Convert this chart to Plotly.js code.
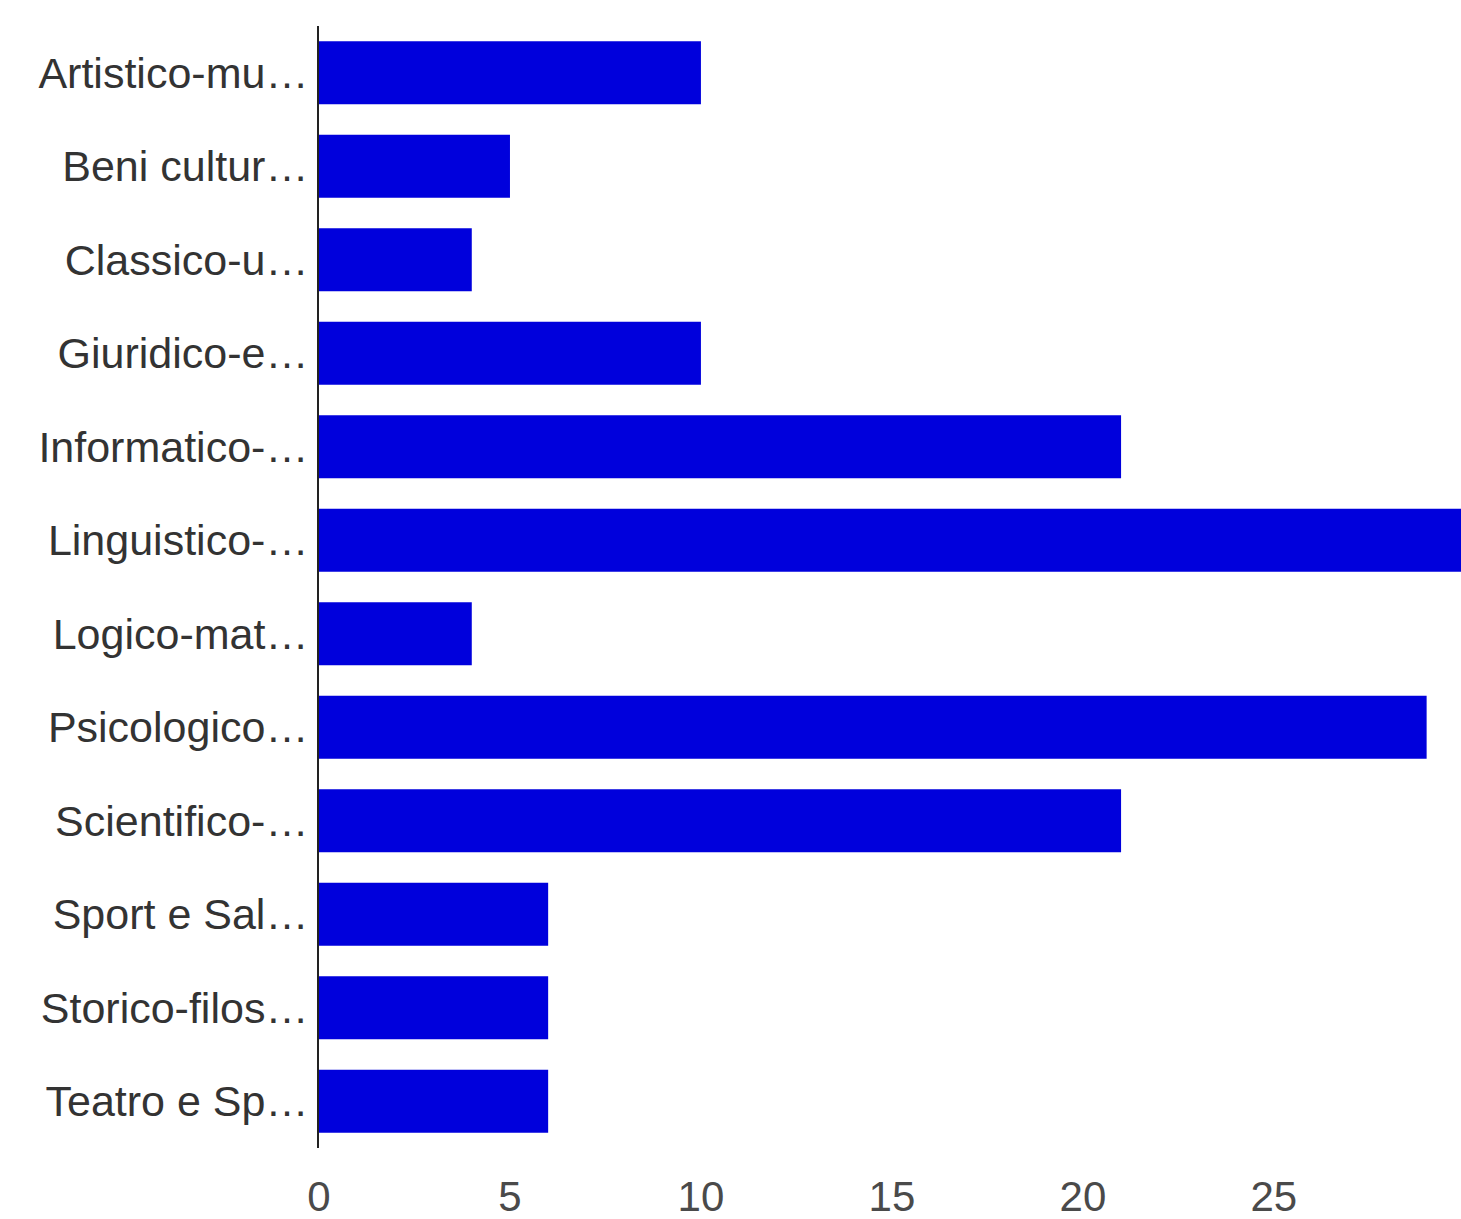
<!DOCTYPE html>
<html>
<head>
<meta charset="utf-8">
<script src="https://cdn.plot.ly/plotly-3.0.1.min.js"></script>
<style>html,body{margin:0;padding:0;background:#fff;}#chart{width:1461px;height:1219px;}</style>
</head>
<body>
<div id="chart"></div>
<script>
const categories = ["Artistico-mu…","Beni cultur…","Classico-u…","Giuridico-e…","Informatico-…","Linguistico-…","Logico-mat…","Psicologico…","Scientifico-…","Sport e Sal…","Storico-filos…","Teatro e Sp…"];
const values = [10, 5, 4, 10, 21, 30, 4, 29, 21, 6, 6, 6];
const xTicks = [0, 5, 10, 15, 20, 25];

const trace = {
  type: 'bar',
  orientation: 'h',
  y: categories,
  x: values,
  marker: {color: '#0000dc', line: {width: 0}},
  hoverinfo: 'none'
};

const layout = {
  width: 1461,
  height: 1219,
  margin: {l: 319, r: 0, t: 26, b: 71, pad: 0},
  paper_bgcolor: '#ffffff',
  plot_bgcolor: '#ffffff',
  showlegend: false,
  bargap: 0.325,
  font: {family: 'Arial, "Liberation Sans", sans-serif', color: '#333333', size: 42},
  xaxis: {
    range: [0, 29.9],
    tickvals: xTicks,
    ticktext: xTicks.map(String),
    showgrid: false,
    zeroline: false,
    showline: false,
    ticks: '',
    ticklabelstandoff: 20,
    tickfont: {size: 42, color: '#4a4a4a'},
    fixedrange: true
  },
  yaxis: {
    type: 'category',
    autorange: 'reversed',
    showgrid: false,
    zeroline: false,
    showline: true,
    linecolor: '#222222',
    linewidth: 2,
    ticks: '',
    ticklabelstandoff: 0,
    tickfont: {size: 43, color: '#333333'},
    fixedrange: true
  }
};

Plotly.newPlot('chart', [trace], layout, {displayModeBar: false, staticPlot: true});
</script>
</body>
</html>
